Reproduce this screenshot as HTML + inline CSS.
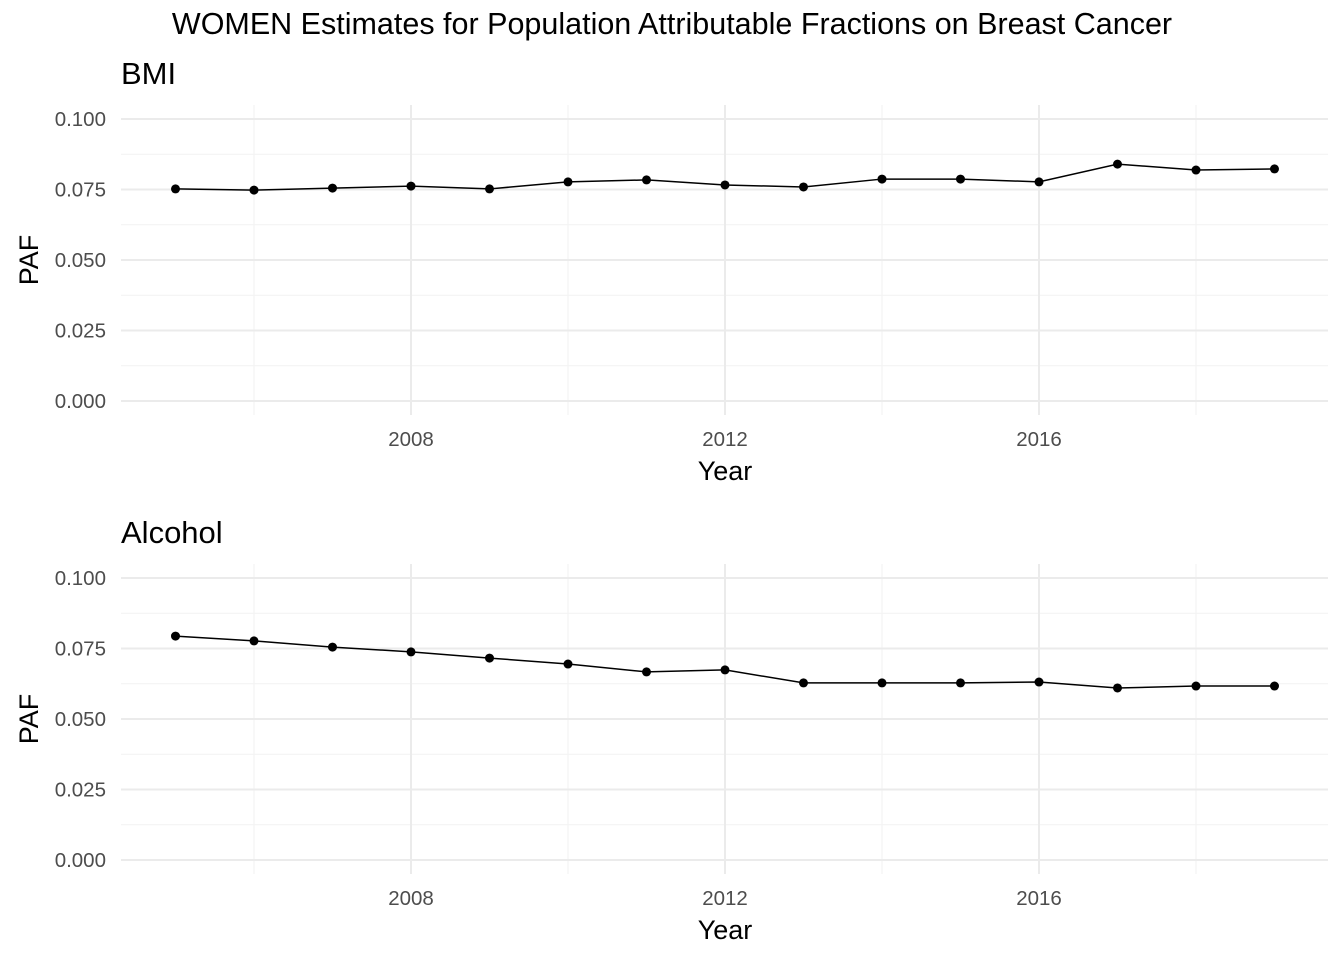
<!DOCTYPE html>
<html><head><meta charset="utf-8"><style>
body{margin:0;background:#fff;font-family:"Liberation Sans",sans-serif}
</style></head><body>
<svg id="c" width="1344" height="960" xmlns="http://www.w3.org/2000/svg">
<text x="672" y="34" text-anchor="middle" font-size="30.5" fill="#000">WOMEN Estimates for Population Attributable Fractions on Breast Cancer</text>
</svg>
<script>
const years=[2005,2006,2007,2008,2009,2010,2011,2012,2013,2014,2015,2016,2017,2018,2019];
const bmiValues=[0.0752,0.0748,0.0755,0.0762,0.0752,0.0777,0.0784,0.0766,0.0759,0.0787,0.0787,0.0777,0.0840,0.0819,0.0823];
const alcoholValues=[0.0794,0.0777,0.0755,0.0738,0.0716,0.0695,0.0667,0.0674,0.0628,0.0628,0.0628,0.0631,0.0610,0.0617,0.0617];
const yTicks=[0,0.025,0.05,0.075,0.1];
const yTickLabels=["0.000","0.025","0.050","0.075","0.100"];
const xTicks=[2008,2012,2016];
const xMinor=[2006,2010,2014,2018];
const svg=document.getElementById('c');
const NS="http://www.w3.org/2000/svg";
function mk(t,a,p){const e=document.createElementNS(NS,t);for(const k in a)e.setAttribute(k,a[k]);(p||svg).appendChild(e);return e;}
const xs=y=>411+(y-2008)*78.5;
function panel(title,vals,top,name){
  const ys=v=>top+282-v/0.1*282;
  const g=mk('g',{});
  
  
  const L=121,R=1328,T=top-14,B=top+296;
  yTicks.forEach((v,i)=>{
    if(i<yTicks.length-1){mk('line',{x1:L,x2:R,y1:ys(v+0.0125),y2:ys(v+0.0125),stroke:'#f2f2f2','stroke-width':1},g);}
  });
  xMinor.forEach(x=>mk('line',{x1:xs(x),x2:xs(x),y1:T,y2:B,stroke:'#f2f2f2','stroke-width':1},g));
  yTicks.forEach((v,i)=>{
    const l=mk('line',{x1:L,x2:R,y1:ys(v),y2:ys(v),stroke:'#ebebeb','stroke-width':2},g);
    
    
    const t=mk('text',{x:106,y:ys(v)+7,'text-anchor':'end','font-size':20.5,fill:'#4d4d4d'},g);
    t.textContent=yTickLabels[i];
    
    
  });
  xTicks.forEach(x=>{
    mk('line',{x1:xs(x),x2:xs(x),y1:T,y2:B,stroke:'#ebebeb','stroke-width':2},g);
    const t=mk('text',{x:xs(x),y:top+327,'text-anchor':'middle','font-size':20.5,fill:'#4d4d4d'},g);
    t.textContent=x;
    
    
  });
  const pl=mk('polyline',{points:years.map((y,i)=>xs(y)+','+ys(vals[i])).join(' '),fill:'none',stroke:'#000','stroke-width':1.5},g);
  
  
  years.forEach((y,i)=>{
    const c=mk('circle',{cx:xs(y),cy:ys(vals[i]),r:4.5,fill:'#000'},g);
    
    
  });
  const tt=mk('text',{x:121,y:top-35,'font-size':31,fill:'#000'},g);
  tt.textContent=title;
  
  
  const xt=mk('text',{x:725,y:top+361,'text-anchor':'middle','font-size':27,fill:'#000'},g);
  xt.textContent='Year';
  
  
  const yt=mk('text',{x:0,y:0,'text-anchor':'middle','font-size':27,fill:'#000',transform:`translate(38,${top+141}) rotate(-90)`},g);
  yt.textContent='PAF';
  
  
}
panel('BMI',bmiValues,119,'bmi');
panel('Alcohol',alcoholValues,578,'alcohol');
</script>
</body></html>
